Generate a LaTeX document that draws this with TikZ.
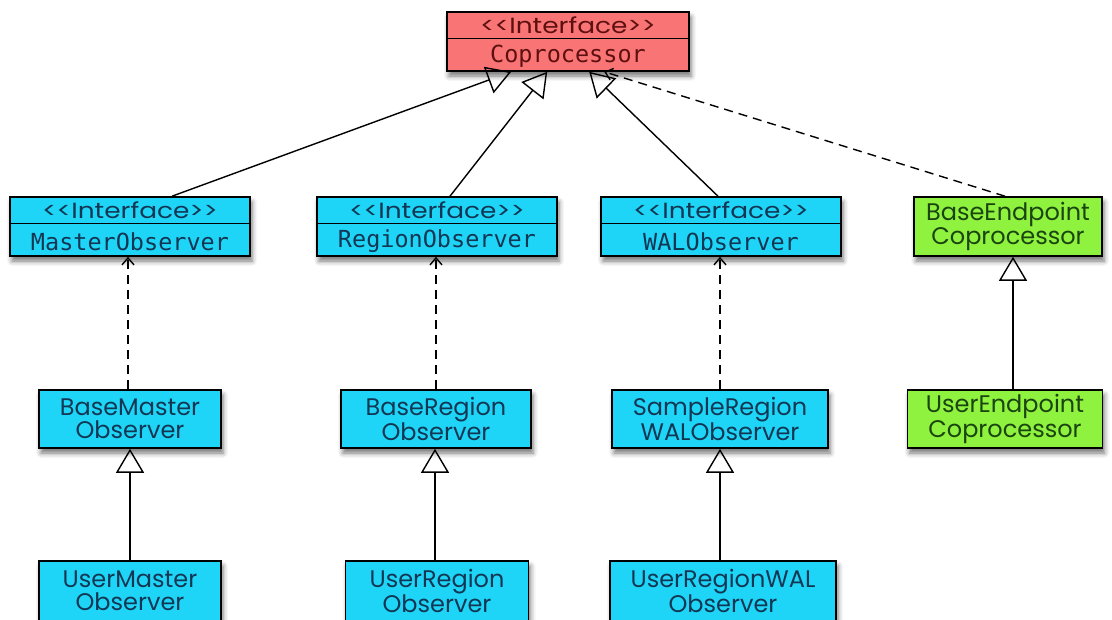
\documentclass[tikz,border=0pt]{standalone}
\usepackage{fontspec}
\setsansfont{Poppins}
\setmonofont{DejaVu Sans Mono}
\usetikzlibrary{arrows.meta,shadows.blur,calc}
\definecolor{ifcyan}{HTML}{1FD5F7}
\definecolor{ifred}{HTML}{F97575}
\definecolor{epgreen}{HTML}{8FF23F}
\definecolor{cyantext}{HTML}{123754}
\definecolor{redtext}{HTML}{5E0F0F}
\definecolor{greentext}{HTML}{1A4410}
% stereotype label, widened to the proportions of the box font
\newcommand\stereotxt{\scalebox{1.2}[1]{{<}{<}Interface{>}{>}}}

\begin{document}
\begin{tikzpicture}[x=1pt,y=-1pt,
  box/.style={draw=black, line width=1.6pt, inner sep=0pt, align=center,
    blur shadow={shadow xshift=2pt, shadow yshift=-5pt, shadow blur radius=5pt, shadow opacity=55}},
  cyanbox/.style={box, fill=ifcyan, text=cyantext},
  redbox/.style={box, fill=ifred, text=redtext},
  greenbox/.style={box, fill=epgreen, text=greentext},
  stereo/.style={font=\sffamily\fontsize{22}{22}\selectfont},
  classname/.style={font=\ttfamily\fontsize{23.5}{24}\selectfont},
  plain/.style={font=\sffamily\fontsize{24}{23}\selectfont},
  divider/.style={line width=1.4pt},
  inherit/.style={-{Triangle[open,length=24pt,width=28pt,line width=1.4pt]}, line width=1.4pt},
  realize/.style={-{Straight Barb[length=7pt,width=12pt]}, dash pattern=on 9pt off 6pt, line width=1.4pt},
]
\useasboundingbox (0,0) rectangle (1112,619);
\clip (0,0) rectangle (1112,619);

% ---- root interface ----
\node[redbox, minimum width=242, minimum height=59] (copro) at (568,41.5) {};
\draw[divider] ([yshift=-27pt]copro.north west) -- ([yshift=-27pt]copro.north east);
\node[stereo, text=redtext] (coproS) at ([yshift=-14pt]copro.north) {\stereotxt};
\node[classname, text=redtext] (coproC) at ([yshift=15.5pt]copro.south) {Coprocessor};

% ---- observer interfaces ----
\node[cyanbox, minimum width=240, minimum height=59] (master) at (130,226.5) {};
\draw[divider] ([yshift=-27pt]master.north west) -- ([yshift=-27pt]master.north east);
\node[stereo, text=cyantext] (masterS) at ([yshift=-14pt]master.north) {\stereotxt};
\node[classname, text=cyantext] (masterC) at ([yshift=15.5pt]master.south) {MasterObserver};

\node[cyanbox, minimum width=240, minimum height=59] (region) at (437,226.5) {};
\draw[divider] ([yshift=-27pt]region.north west) -- ([yshift=-27pt]region.north east);
\node[stereo, text=cyantext] (regionS) at ([yshift=-14pt]region.north) {\stereotxt};
\node[classname, text=cyantext] (regionC) at ([yshift=15.5pt]region.south) {RegionObserver};

\node[cyanbox, minimum width=240, minimum height=59] (wal) at (721,226.5) {};
\draw[divider] ([yshift=-27pt]wal.north west) -- ([yshift=-27pt]wal.north east);
\node[stereo, text=cyantext] (walS) at ([yshift=-14pt]wal.north) {\stereotxt};
\node[classname, text=cyantext] (walC) at ([yshift=15.5pt]wal.south) {WALObserver};

\node[greenbox, plain, minimum width=188, minimum height=59] (baseep) at (1008,226.5) {BaseEndpoint\\Coprocessor};

% ---- base implementations ----
\node[cyanbox, plain, minimum width=182, minimum height=58] (basemaster) at (130,419) {BaseMaster\\Observer};
\node[cyanbox, plain, minimum width=190, minimum height=58] (baseregion) at (436,419) {BaseRegion\\Observer};
\node[cyanbox, plain, minimum width=216, minimum height=58] (samplewal) at (720,419) {SampleRegion\\WALObserver};
\node[greenbox, plain, minimum width=195, minimum height=58] (userep) at (1005,419) {UserEndpoint\\Coprocessor};

% ---- user classes ----
\node[cyanbox, plain, minimum width=182, minimum height=60] (usermaster) at (130,591) {UserMaster\\Observer};
\node[cyanbox, plain, minimum width=183, minimum height=60] (userregion) at (437,591) {UserRegion\\Observer};
\node[cyanbox, plain, minimum width=226, minimum height=60] (userwal) at (723,591) {UserRegionWAL\\Observer};

% ---- arrow ends on the root interface ----
\coordinate (tipM) at ($(copro.south west)+(65,0)$);
\coordinate (tipR) at ($(copro.south west)+(101,0)$);
\coordinate (tipW) at ($(copro.south west)+(143,0)$);
\coordinate (tipE) at ($(copro.south west)+(158,0)$);

% ---- generalisation to Coprocessor ----
\draw[inherit] ([xshift=42pt]master.north) -- (tipM);
\draw[inherit] ([xshift=13pt]region.north) -- (tipR);
\draw[inherit] ([xshift=-3pt]wal.north) -- (tipW);
\draw[realize] ([xshift=-3pt]baseep.north) -- (tipE);

% ---- realisation of observer interfaces ----
\draw[realize] ([xshift=-2pt]basemaster.north) -- ([xshift=-2pt]basemaster.north |- master.south);
\draw[realize] (baseregion.north) -- (baseregion.north |- region.south);
\draw[realize] (samplewal.north) -- (samplewal.north |- wal.south);

% ---- subclassing ----
\draw[inherit] (usermaster.north) -- (usermaster.north |- basemaster.south);
\draw[inherit] ([xshift=-2pt]userregion.north) -- ([xshift=-2pt]userregion.north |- baseregion.south);
\draw[inherit] (samplewal.south |- userwal.north) -- (samplewal.south);
\draw[inherit] ([xshift=8pt]userep.north) -- ([xshift=8pt]userep.north |- baseep.south);
\end{tikzpicture}
\end{document}
